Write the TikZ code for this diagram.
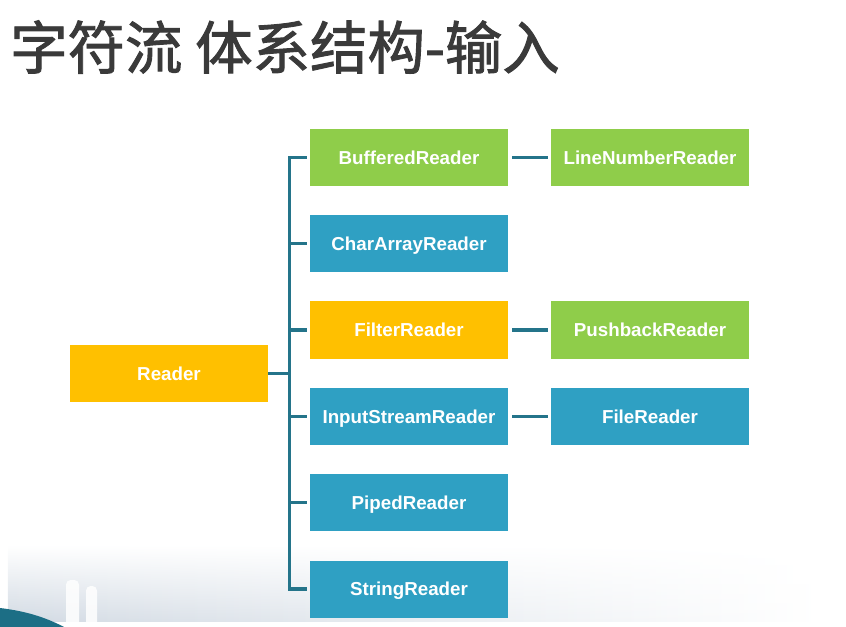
\documentclass[tikz,border=0pt]{standalone}
\usepackage{fontspec}
\setmainfont{Liberation Sans}
\newfontfamily\cjk[AutoFakeBold=1.6]{Noto Sans CJK SC}
\usetikzlibrary{positioning,calc,fadings}
\definecolor{rdYel}{HTML}{FFC000}
\definecolor{rdGrn}{HTML}{8FCD4A}
\definecolor{rdBlu}{HTML}{2FA0C3}
\definecolor{linkInk}{HTML}{24748A}
\definecolor{titleInk}{HTML}{3A3A3A}
\definecolor{baseGrey}{HTML}{D2DAE3}
\definecolor{cornerTeal}{HTML}{1C6E85}

\begin{document}
\begin{tikzpicture}[
  x=0.03cm, y=-0.03cm,
  bx/.style={minimum width=5.94cm, minimum height=1.71cm, inner sep=0pt,
             text height=11.5pt, text depth=0pt,
             text=white, font=\fontsize{16}{18}\selectfont\bfseries},
  yel/.style={bx, fill=rdYel},
  grn/.style={bx, fill=rdGrn},
  blu/.style={bx, fill=rdBlu},
  link/.style={line width=2.6pt, draw=linkInk},
]
\useasboundingbox (0,0) rectangle (846,627);

% =========================== SLIDE BACKGROUND ===========================
\shade[left color=baseGrey, right color=white, path fading=north] (8,545) rectangle (820,622);
\fill[white, opacity=0.85, rounded corners=4pt] (66,580) rectangle (79,627);
\fill[white, opacity=0.85, rounded corners=4pt] (86,586) rectangle (97,627);
\fill[cornerTeal] (0,608) .. controls (25,611) and (45,617) .. (64,627) -- (0,627) -- cycle;

% =========================== TITLE ===========================
\node[anchor=west, inner sep=0pt, text=titleInk, font=\cjk\fontsize{49}{54}\selectfont\bfseries] (title)
  at (10,47){字符流 体系结构-输入};

% =========================== CLASS BOXES ===========================
\node[yel] (rd)  at (169,373.5){Reader};

\node[grn] (buf) at (409,157.5){BufferedReader};
\node[blu] (chr) at (409,243.5){CharArrayReader};
\node[yel] (flt) at (409,330){FilterReader};
\node[blu] (isr) at (409,416.5){InputStreamReader};
\node[blu] (pip) at (409,502.5){PipedReader};
\node[blu] (str) at (409,589){StringReader};

\node[grn] (lnr) at (650,157.5){LineNumberReader};
\node[grn] (pbr) at (650,330){PushbackReader};
\node[blu] (fil) at (650,416.5){FileReader};

% =========================== CONNECTORS ===========================
\foreach \n in {buf,chr,flt,isr,pip,str}
  \draw[link, shorten >=0.07cm] (rd.east) -- ++(21,0) |- (\n.west);

\draw[link, shorten <=0.12cm, shorten >=0.09cm] (buf.east) -- (lnr.west);
\draw[link, shorten <=0.12cm, shorten >=0.09cm] (flt.east) -- (pbr.west);
\draw[link, shorten <=0.12cm, shorten >=0.09cm] (isr.east) -- (fil.west);

\end{tikzpicture}
\end{document}
